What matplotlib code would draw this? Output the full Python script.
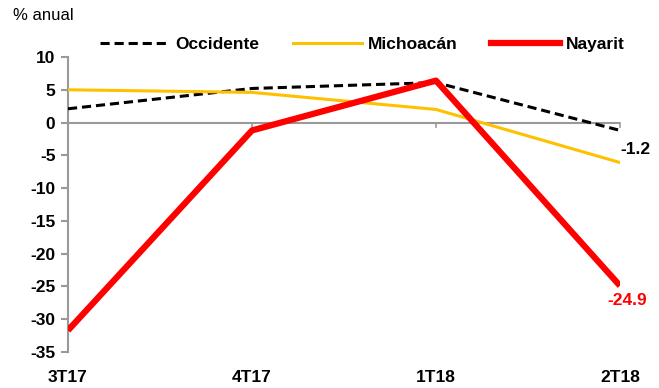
import matplotlib
matplotlib.use("Agg")
import matplotlib.pyplot as plt
from matplotlib.lines import Line2D

categories = ["3T17", "4T17", "1T18", "2T18"]
occidente = [2.1, 5.2, 6.1, -1.2]
michoacan = [5.0, 4.6, 2.0, -6.1]
nayarit = [-31.7, -1.2, 6.4, -24.9]
yticks = [10, 5, 0, -5, -10, -15, -20, -25, -30, -35]

FONT = ["Liberation Sans", "DejaVu Sans"]
plt.rcParams['font.family'] = FONT
FS = 12.5

fig = plt.figure(figsize=(6.59, 3.88), dpi=100)
W, H = 659, 388
left, right, top, bottom = 68, 620, 57, 352
ax = fig.add_axes([left / W, 1 - bottom / H, (right - left) / W, (bottom - top) / H])

x = list(range(len(categories)))
ax.plot(x, occidente, color="black", lw=2.2, ls=(0, (3, 1.6)), zorder=3)
ax.plot(x, michoacan, color="#FFC000", lw=2.2, zorder=3)
ax.plot(x, nayarit, color="#FF0000", lw=4.5, solid_capstyle="butt", zorder=4)

ax.set_xlim(0, 3)
ax.set_ylim(-35, 10)
ax.set_yticks(yticks)
ax.set_yticklabels([str(v) for v in yticks], fontsize=FS, fontweight="bold")
for s in ["top", "right", "bottom"]:
    ax.spines[s].set_visible(False)
ax.spines["left"].set_color("#999999")
ax.spines["left"].set_linewidth(1.5)
ax.tick_params(axis="y", color="#999999", width=1.5, length=5, pad=4)
ax.axhline(0, color="#999999", lw=1.5, zorder=1)
ax.set_xticks([])
for i in (1, 2, 3):
    ax.plot([i, i], [0, -0.7], color="#999999", lw=1.2, zorder=1, clip_on=False)
for i, c in enumerate(categories):
    ax.annotate(c, (i, -35), xytext=(0, -13), textcoords="offset points",
                ha="center", va="top", fontsize=FS, fontweight="bold",
                annotation_clip=False)

ax.annotate(f"{occidente[-1]:.1f}", (3, occidente[-1]), xytext=(11, -8),
            textcoords="offset points", ha="center", va="top", fontsize=FS,
            fontweight="bold", color="black", annotation_clip=False)
ax.annotate(f"{nayarit[-1]:.1f}", (3, nayarit[-1]), xytext=(5, -5),
            textcoords="offset points", ha="center", va="top", fontsize=FS,
            fontweight="bold", color="#FF0000", annotation_clip=False)

fig.text(13 / W, 1 - 16 / H, "% anual", fontsize=12, va="center", ha="left")

handles = [
    Line2D([], [], color="black", lw=2.2, ls=(0, (3, 1.6))),
    Line2D([], [], color="#FFC000", lw=2.2),
    Line2D([], [], color="#FF0000", lw=4.5),
]
leg = fig.legend(handles, ["Occidente", "Michoacán", "Nayarit"], loc="center left",
                 bbox_to_anchor=(100 / W, 1 - 44 / H), ncol=3, frameon=False,
                 prop={"family": FONT, "weight": "bold", "size": FS},
                 handlelength=4.0, handletextpad=0.35, columnspacing=1.9,
                 borderpad=0, borderaxespad=0)

fig.savefig("out.png", dpi=100)
